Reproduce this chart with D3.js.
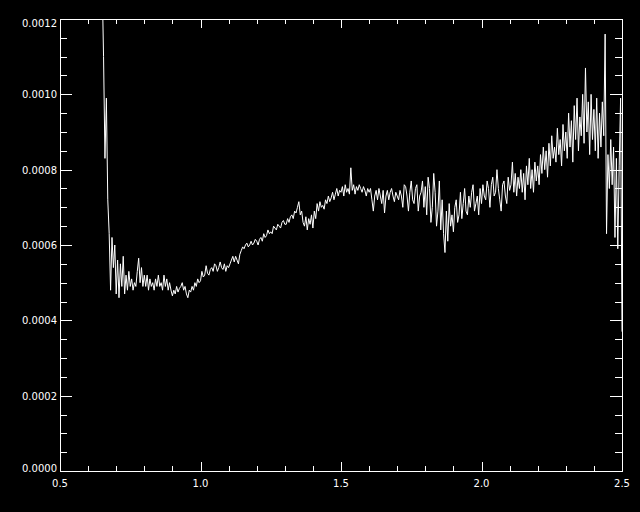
<!doctype html>
<html>
<head>
    <script src="https://d3js.org/d3.v7.min.js"></script>
    <style>
        html, body {
            margin: 0;
            padding: 0;
            background: #000;
        }

        svg text {
            fill: white;
            font: 10px "DejaVu Sans", sans-serif;
        }
    </style>
</head>
<body>

<script>
    // spectrum sampled every 0.005 starting at x = 0.65, values in units of 1e-4
    let xStart = 0.65,
        xStep = 0.005;

    let flux = [
        13.0, 11.0, 8.3, 9.9, 7.2, 6.3, 4.8, 6.2, 5.4, 6.0,
        4.7, 5.6, 4.6, 5.5, 4.9, 5.7, 4.7, 5.2, 4.8, 5.3,
        4.9, 5.1, 4.8, 5.0, 4.9, 5.3, 5.65, 5.0, 5.4, 4.9,
        5.2, 4.9, 5.2, 4.8, 5.1, 4.9, 5.0, 4.8, 5.1, 4.9,
        5.2, 4.9, 5.0, 4.8, 5.2, 4.9, 5.1, 4.8, 5.0, 4.8,
        4.65, 4.8, 4.7, 4.9, 4.75, 4.85, 4.9, 5.0, 4.8, 4.9,
        4.7, 4.6, 4.8, 4.75, 4.9, 4.8, 5.0, 4.9, 5.1, 5.0,
        5.05, 5.3, 5.15, 5.2, 5.45, 5.25, 5.2, 5.35, 5.4, 5.3,
        5.5, 5.45, 5.3, 5.4, 5.55, 5.4, 5.35, 5.5, 5.3, 5.45,
        5.4, 5.5, 5.6, 5.7, 5.55, 5.7, 5.6, 5.5, 5.75, 5.85,
        5.95, 5.9, 6.0, 6.05, 5.95, 6.0, 6.1, 6.0, 6.05, 6.15,
        6.1, 6.0, 6.15, 6.2, 6.1, 6.3, 6.2, 6.25, 6.4, 6.3,
        6.35, 6.3, 6.5, 6.45, 6.4, 6.55, 6.5, 6.45, 6.6, 6.65,
        6.55, 6.55, 6.7, 6.6, 6.75, 6.8, 6.7, 6.9, 6.85, 7.0,
        7.15, 6.8, 6.9, 6.6, 6.5, 6.75, 6.4, 6.7, 6.55, 6.8,
        6.45, 6.9, 6.7, 7.1, 6.9, 7.15, 7.0, 7.05, 6.95, 7.2,
        7.1, 7.3, 7.15, 7.25, 7.4, 7.2, 7.35, 7.5, 7.3, 7.45,
        7.4, 7.55, 7.3, 7.6, 7.4, 7.5, 7.35, 8.05, 7.45, 7.6,
        7.35, 7.55, 7.45, 7.6, 7.5, 7.4, 7.55, 7.45, 7.3, 7.5,
        7.4, 7.5, 7.2, 6.9, 7.3, 7.45, 7.2, 7.5, 7.3, 7.1,
        7.45, 6.85, 7.3, 7.45, 7.2, 7.4, 7.5, 7.3, 7.15, 7.4,
        7.3, 7.2, 7.45, 7.3, 7.0, 7.6, 7.55, 7.3, 6.9, 7.4,
        7.7, 7.2, 7.1, 7.5, 7.6, 6.9, 7.3, 7.4, 7.7, 7.0,
        7.55, 6.8, 7.8, 7.5, 6.6, 7.0, 7.9, 7.4, 6.5, 6.9,
        7.7, 6.4, 7.2, 6.3, 5.8, 6.9, 6.1, 7.1, 6.5, 6.8,
        6.35, 7.0, 7.2, 6.6, 6.8, 7.4, 6.7, 7.1, 7.5, 6.9,
        6.8, 7.3, 7.0, 7.4, 7.6, 6.9, 7.1, 7.3, 6.8, 7.5,
        7.1, 7.6, 7.3, 7.2, 7.7, 7.5, 7.0, 7.6, 7.8, 7.3,
        7.4, 8.0, 7.5, 7.2, 6.9, 7.6, 7.7, 7.3, 7.1, 7.8,
        7.45, 7.6, 8.2, 7.4, 7.9, 7.3, 7.8, 7.5, 8.0, 7.4,
        7.9, 7.2, 8.1, 7.6, 8.3, 7.5, 8.0, 7.4, 8.2, 7.7,
        8.1, 7.6, 8.4, 7.9, 8.6, 8.0, 8.5, 7.8, 8.7, 8.1,
        8.9, 8.3, 8.6, 8.2, 9.1, 8.4, 8.8, 8.1, 9.2, 8.5,
        9.0, 8.3, 9.5, 8.6, 9.3, 8.2, 9.7, 8.8, 9.9, 8.5,
        9.4, 8.9, 10.0, 8.7, 10.7, 9.0, 9.8, 8.4, 10.0, 8.8,
        9.6, 8.5, 9.9, 8.3, 9.5, 8.6, 9.8, 8.9, 11.6, 6.3,
        8.4, 7.5, 8.8, 7.6, 8.6, 6.2, 8.3, 5.9, 8.1, 9.9,
        3.7
    ];

    let xMajor = [0.5, 1.0, 1.5, 2.0, 2.5];
    let xMajorLabels = ["0.5", "1.0", "1.5", "2.0", "2.5"];
    let yMajor = [0, 0.0002, 0.0004, 0.0006, 0.0008, 0.0010, 0.0012];
    let yMajorLabels = ["0.0000", "0.0002", "0.0004", "0.0006", "0.0008", "0.0010", "0.0012"];

    let width = 640,
        height = 512,
        plotLeft = 60,
        plotRight = 622,
        plotTop = 19,
        plotBottom = 471;

    let x = d3.scaleLinear().domain([0.5, 2.5]).range([plotLeft, plotRight]);
    let y = d3.scaleLinear().domain([0, 0.0012]).range([plotBottom, plotTop]);

    let points = flux.map((v, i) => [xStart + i * xStep, v * 1e-4]);

    let svg = d3.select("body")
                .append("svg")
                .attr("width", width)
                .attr("height", height)
                .style("display", "block")
                .style("background", "#000");

    svg.append("clipPath")
       .attr("id", "plot")
       .append("rect")
       .attr("x", plotLeft)
       .attr("y", plotTop)
       .attr("width", plotRight - plotLeft)
       .attr("height", plotBottom - plotTop);

    // the spectrum itself
    svg.append("path")
       .datum(points)
       .attr("clip-path", "url(#plot)")
       .attr("fill", "none")
       .attr("stroke", "white")
       .attr("stroke-width", 1)
       .attr("d", d3.line().x(d => x(d[0])).y(d => y(d[1])));

    // minor ticks: 0.1 on x, 0.00005 on y
    let xMinor = d3.range(0, 21).map(i => 0.5 + i * 0.1);
    let yMinor = d3.range(0, 25).map(i => i * 0.00005);

    let axes = svg.append("g")
                  .attr("stroke", "white")
                  .attr("stroke-width", 1)
                  .attr("shape-rendering", "crispEdges");

    // frame
    axes.append("rect")
        .attr("x", plotLeft + 0.5)
        .attr("y", plotTop + 0.5)
        .attr("width", plotRight - plotLeft)
        .attr("height", plotBottom - plotTop)
        .attr("fill", "none");

    let isMajorX = v => xMajor.some(m => Math.abs(m - v) < 1e-6);
    let isMajorY = v => yMajor.some(m => Math.abs(m - v) < 1e-9);

    // bottom and top ticks
    xMinor.forEach(v => {
        let len = isMajorX(v) ? 9 : 5;
        let px = Math.round(x(v)) + 0.5;
        axes.append("line").attr("x1", px).attr("x2", px)
            .attr("y1", plotBottom).attr("y2", plotBottom - len);
        axes.append("line").attr("x1", px).attr("x2", px)
            .attr("y1", plotTop).attr("y2", plotTop + len);
    });

    // left and right ticks
    yMinor.forEach(v => {
        let len = isMajorY(v) ? 12 : 7;
        let py = Math.round(y(v)) + 0.5;
        axes.append("line").attr("y1", py).attr("y2", py)
            .attr("x1", plotLeft).attr("x2", plotLeft + len);
        axes.append("line").attr("y1", py).attr("y2", py)
            .attr("x1", plotRight).attr("x2", plotRight - len);
    });

    svg.append("g")
       .selectAll("text")
       .data(xMajor)
       .enter()
       .append("text")
       .attr("x", d => x(d))
       .attr("y", 487)
       .attr("text-anchor", "middle")
       .text((d, i) => xMajorLabels[i]);

    svg.append("g")
       .selectAll("text")
       .data(yMajor)
       .enter()
       .append("text")
       .attr("x", 57)
       .attr("y", d => Math.max(27, Math.min(472, y(d) + 4)))
       .attr("text-anchor", "end")
       .text((d, i) => yMajorLabels[i]);

</script>
</body>
</html>
